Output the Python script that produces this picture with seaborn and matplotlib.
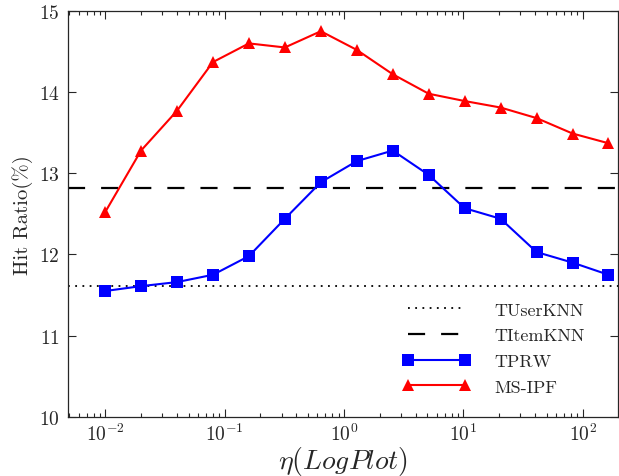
import matplotlib
matplotlib.use("Agg")
import matplotlib.pyplot as plt
import seaborn as sns
import pandas as pd
from matplotlib.ticker import LogLocator, NullFormatter

# eta values (doubling steps) and hit ratios
eta = [0.01, 0.02, 0.04, 0.08, 0.16, 0.32, 0.64, 1.28, 2.56, 5.12,
       10.24, 20.48, 40.96, 81.92, 163.84]
tprw = [11.55, 11.61, 11.66, 11.75, 11.98, 12.44, 12.89, 13.15, 13.28, 12.98,
        12.57, 12.44, 12.03, 11.90, 11.75]
ms_ipf = [12.52, 13.28, 13.77, 14.37, 14.60, 14.55, 14.75, 14.52, 14.22, 13.98,
          13.89, 13.81, 13.68, 13.49, 13.37]
tuserknn = 11.61
titemknn = 12.82

sns.set_style("ticks")
plt.rcParams["font.family"] = ["cmr10", "DejaVu Serif"]
plt.rcParams["mathtext.fontset"] = "cm"
plt.rcParams["axes.formatter.use_mathtext"] = True

fig = plt.figure(figsize=(6.19, 4.77), dpi=100)
ax = fig.add_axes([0.11, 0.124, 0.888, 0.851])

df = pd.DataFrame({"eta": eta, "TPRW": tprw, "MS-IPF": ms_ipf})

ax.axhline(tuserknn, color="black", linestyle=(0, (1, 3)), lw=1.3, label="TUserKNN")
ax.axhline(titemknn, color="black", linestyle=(0, (7.7, 7.2)), lw=1.6, label="TItemKNN")
sns.lineplot(data=df, x="eta", y="TPRW", ax=ax, color="#0000ff", marker="s",
             markersize=8, markeredgewidth=0, lw=1.5, label="TPRW")
sns.lineplot(data=df, x="eta", y="MS-IPF", ax=ax, color="#ff0000", marker="^",
             markersize=9, markeredgewidth=0, lw=1.5, label="MS-IPF")

ax.set_xscale("log")
ax.set_xlim(0.0049, 196)
ax.set_ylim(10, 15)
ax.set_yticks([10, 11, 12, 13, 14, 15])
ax.xaxis.set_minor_locator(LogLocator(base=10, subs=range(2, 10)))
ax.xaxis.set_minor_formatter(NullFormatter())

ax.tick_params(which="both", direction="in", top=True, right=True, labelsize=14,
               width=0.8)
ax.tick_params(axis="x", pad=4)
ax.tick_params(axis="y", pad=6)
ax.tick_params(which="major", length=6)
ax.tick_params(which="minor", length=3)
for s in ax.spines.values():
    s.set_linewidth(0.9)

ax.set_xlabel(r"$\eta(LogPlot)$", fontsize=20)
ax.xaxis.set_label_coords(0.5, -0.066)
ax.set_ylabel("Hit Ratio(%)", fontsize=15, labelpad=4)

ax.legend(loc="lower right", frameon=False, fontsize=13, handlelength=3.75,
          numpoints=2, bbox_to_anchor=(0.97, 0.015), labelspacing=0.55,
          handletextpad=1.35)

fig.savefig("out.png", dpi=100)
